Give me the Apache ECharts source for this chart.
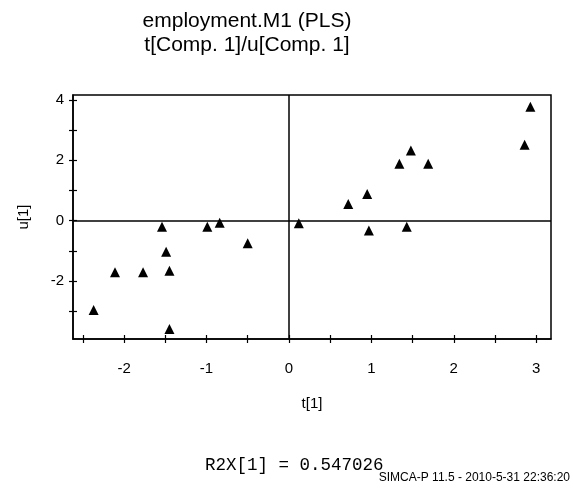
<!DOCTYPE html>
<html><head><meta charset="utf-8">
<script src="https://cdn.jsdelivr.net/npm/echarts@6/dist/echarts.min.js"></script>
<style>html,body{margin:0;padding:0;background:#fff}#c{width:573px;height:492px}</style>
</head><body><div id="c"></div>
<script>
const tScores = [-1.54, -0.99, -0.84, -1.49, -0.50, -2.11, -1.77, -1.45, -2.37, -1.45, 0.12, 0.72, 0.95, 0.97, 1.34, 1.48, 1.69, 1.43, 2.86, 2.93];
const uScores = [-0.20, -0.20, -0.07, -1.03, -0.75, -1.71, -1.71, -1.66, -2.96, -3.59, -0.09, 0.55, 0.88, -0.33, 1.88, 2.32, 1.88, -0.20, 2.51, 3.77];
const xTicks = [-2.5, -2, -1.5, -1, -0.5, 0, 0.5, 1, 1.5, 2, 2.5, 3];
const xLabels = [-2, -1, 0, 1, 2, 3];
const yTicks = [-3, -2, -1, 0, 1, 2, 3, 4];
const yLabels = [-2, 0, 2, 4];
const titleLines = ["employment.M1 (PLS)", "t[Comp. 1]/u[Comp. 1]"];
const xName = "t[1]", yName = "u[1]";
const footer = "R2X[1] = 0.547026";
const stamp = "SIMCA-P 11.5 - 2010-5-31 22:36:20";

const points = tScores.map((t, i) => [t, uScores[i]]);
const font = "Liberation Sans";
const X_MIN = -2.62, X_MAX = 3.18, Y_MIN = -3.92, Y_MAX = 4.16;
const lineCol = '#000';
const chart = echarts.init(document.getElementById('c'));
chart.setOption({
  backgroundColor: '#fff',
  animation: false,
  grid: { left: 73, right: 22, top: 95, bottom: 153, show: true, borderColor: lineCol, borderWidth: 1.5, backgroundColor: 'transparent' },
  xAxis: [{
    type: 'value', min: X_MIN, max: X_MAX,
    splitLine: { show: false },
    axisLine: { show: true, onZero: false, lineStyle: { color: lineCol, width: 1.5 } },
    axisTick: { show: true, customValues: xTicks, length: 4, lineStyle: { color: lineCol, width: 1.2 } },
    axisLabel: { customValues: xLabels, color: '#000', fontFamily: font, fontSize: 15, margin: 22 },
    name: xName, nameLocation: 'middle', nameGap: 57,
    nameTextStyle: { color: '#000', fontFamily: font, fontSize: 15 }
  }, {
    type: 'value', min: X_MIN, max: X_MAX, position: 'bottom',
    splitLine: { show: false },
    axisLine: { show: false, onZero: false },
    axisTick: { show: true, inside: true, customValues: xTicks, length: 4, lineStyle: { color: lineCol, width: 1.2 } },
    axisLabel: { show: false }
  }],
  yAxis: [{
    type: 'value', min: Y_MIN, max: Y_MAX,
    splitLine: { show: false },
    axisLine: { show: true, onZero: false, lineStyle: { color: lineCol, width: 1.5 } },
    axisTick: { show: true, customValues: yTicks, length: 4, lineStyle: { color: lineCol, width: 1.2 } },
    axisLabel: { customValues: yLabels, color: '#000', fontFamily: font, fontSize: 15, margin: 9 },
    name: yName, nameLocation: 'middle', nameGap: 42,
    nameTextStyle: { color: '#000', fontFamily: font, fontSize: 15 }
  }, {
    type: 'value', min: Y_MIN, max: Y_MAX, position: 'left',
    splitLine: { show: false },
    axisLine: { show: false, onZero: false },
    axisTick: { show: true, inside: true, customValues: yTicks, length: 4, lineStyle: { color: lineCol, width: 1.2 } },
    axisLabel: { show: false }
  }],
  series: [{
    type: 'scatter',
    data: points,
    symbol: 'triangle',
    symbolSize: 10,
    itemStyle: { color: '#000', opacity: 1 },
    markLine: {
      silent: true, symbol: 'none', animation: false,
      label: { show: false },
      lineStyle: { color: lineCol, type: 'solid', width: 1.5, opacity: 1 },
      emphasis: { disabled: true },
      data: [{ xAxis: 0 }, { yAxis: 0 }]
    }
  }],
  graphic: [
    { type: 'text', x: 247, y: 21, style: { text: titleLines[0], fill: '#000', font: '21px "Liberation Sans"', align: 'center', verticalAlign: 'middle' } },
    { type: 'text', x: 247, y: 45, style: { text: titleLines[1], fill: '#000', font: '21px "Liberation Sans"', align: 'center', verticalAlign: 'middle' } },
    { type: 'text', x: 205, y: 465, style: { text: footer, fill: '#000', font: '17.5px "Liberation Mono"', align: 'left', verticalAlign: 'middle' } },
    { type: 'text', x: 570, y: 478, style: { text: stamp, fill: '#000', font: '12px "Liberation Sans"', align: 'right', verticalAlign: 'middle' } }
  ]
});
</script></body></html>
